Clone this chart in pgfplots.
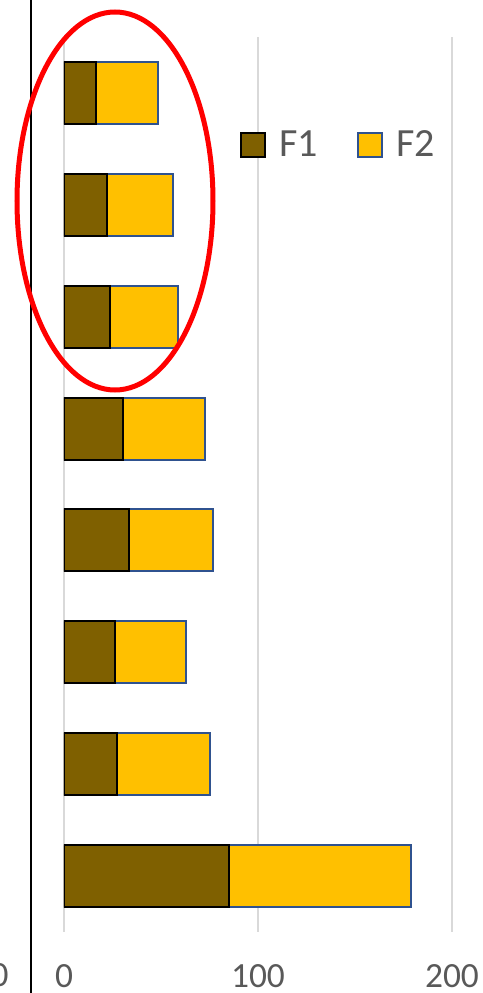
\documentclass[border=0pt]{standalone}
\usepackage{fontspec}
\setmainfont{Carlito}
\usepackage{pgfplots}
\pgfplotsset{compat=1.18}
\definecolor{fone}{HTML}{7F6000}
\definecolor{ftwo}{HTML}{FFC000}
\definecolor{ftwoedge}{HTML}{2F528F}
\definecolor{gridgray}{HTML}{D9D9D9}
\definecolor{txtgray}{HTML}{595959}
\begin{document}
\begin{tikzpicture}
  % page frame: 483 x 993 px at 0.5pt per px
  \useasboundingbox (0,0) rectangle (241.5pt,496.5pt);
  \clip (0,0) rectangle (241.5pt,496.5pt);
  \begin{axis}[
      at={(32pt,30.5pt)}, anchor=south west,
      scale only axis, width=194pt, height=447.5pt,
      xbar stacked, bar width=31pt,
      xmin=0, xmax=200, ymin=0.5, ymax=8.5, y dir=reverse,
      enlargelimits=false,
      ytick=\empty, xtick={0,100,200},
      axis line style={draw=none}, major tick length=0pt,
      xmajorgrids, grid style={draw=gridgray, line width=1pt},
      /pgf/number format/assume math mode=true,
      xticklabel style={anchor=base, yshift=-27.5pt, text=txtgray,
        font=\fontsize{17.7}{21}\selectfont},
      legend columns=2,
      legend image code/.code={\draw[#1, line width=1pt] (0pt,-6pt) rectangle (12pt,6pt);},
      legend style={at={(0.4536,0.8788)}, anchor=west, draw=none, fill=none,
        inner sep=0pt, column sep=6.5pt,
        /tikz/every even column/.append style={column sep=19.5pt},
        nodes={inner sep=0pt, text=txtgray, font=\fontsize{20}{24}\selectfont}},
    ]
    \addplot[fill=fone, draw=black, line width=1pt] coordinates {
      (16.5,1) (22.0,2) (23.7,3) (30.4,4) (33.7,5) (26.1,6) (27.5,7) (85.2,8)
    };
    \addplot[fill=ftwo, draw=ftwoedge, line width=1pt] coordinates {
      (31.7,1) (34.4,2) (34.9,3) (42.1,4) (42.9,5) (36.8,6) (47.9,7) (93.5,8)
    };
    \legend{F1,F2}
  \end{axis}
  % neighbouring panel: its axis line and a cut-off tick label
  \draw[black, line width=0.8pt] (15.35pt,0) -- (15.35pt,496.5pt);
  \node[anchor=base, inner sep=0pt, text=txtgray, font=\fontsize{17.7}{21}\selectfont]
    at (-0.25pt,3pt) {0};
  % highlight
  \draw[red, line width=2.5pt] (57.5pt,396pt) ellipse [x radius=49pt, y radius=94.5pt];
\end{tikzpicture}
\end{document}
